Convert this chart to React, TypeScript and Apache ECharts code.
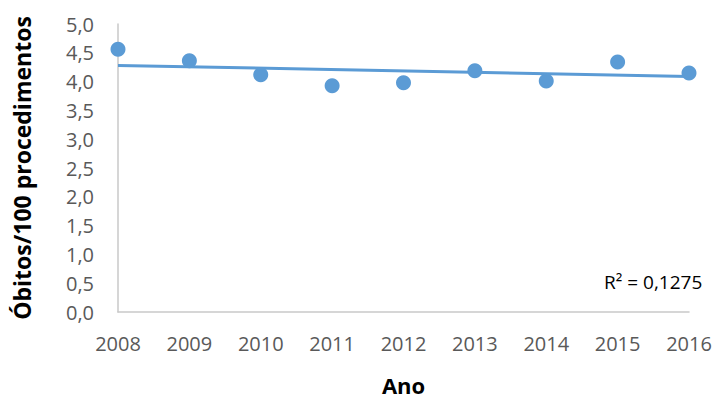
import React, { useEffect, useRef } from "react";
import * as echarts from "echarts";

const years = ["2008", "2009", "2010", "2011", "2012", "2013", "2014", "2015", "2016"];
const deathsPer100 = [4.56, 4.36, 4.12, 3.93, 3.98, 4.19, 4.01, 4.34, 4.15];
// linear trendline as drawn (first and last year)
const trendEnds = [4.28, 4.09];
const rSquaredLabel = "R² = 0,1275";

const FONT = "'Open Sans', sans-serif";
const BLUE = "#5B9BD5";

const App = () => {
  const chartRef = useRef<HTMLDivElement>(null);

  useEffect(() => {
    const dom = chartRef.current;
    if (!dom) return;
    const chart = echarts.init(dom, undefined, { renderer: "svg" });

    const option: echarts.EChartsOption = {
      animation: false,
      textStyle: { fontFamily: FONT },
      grid: { left: 118, right: 28, top: 24, bottom: 79 },
      xAxis: {
        type: "category",
        data: years,
        boundaryGap: false,
        name: "Ano",
        nameLocation: "middle",
        nameGap: 62,
        nameTextStyle: { fontFamily: FONT, fontSize: 22, fontWeight: "bold", color: "#000" },
        axisLine: { lineStyle: { color: "#C9C9C9", width: 1.5 } },
        axisTick: { show: false },
        axisLabel: { color: "#595959", fontSize: 20, margin: 21, fontFamily: FONT },
        splitLine: { show: false },
      },
      yAxis: {
        type: "value",
        min: 0,
        max: 5,
        interval: 0.5,
        name: "Óbitos/100 procedimentos",
        nameLocation: "middle",
        nameGap: 85,
        nameTextStyle: { fontFamily: FONT, fontSize: 23, fontWeight: "bold", color: "#000" },
        axisLine: { show: true, lineStyle: { color: "#C9C9C9", width: 1.5 } },
        axisTick: { show: false },
        axisLabel: {
          color: "#595959",
          fontSize: 20,
          margin: 24,
          fontFamily: FONT,
          formatter: (v: number) => v.toFixed(1).replace(".", ","),
        },
        splitLine: { show: false },
      },
      series: [
        {
          type: "line",
          data: [
            [years[0], trendEnds[0]],
            [years[years.length - 1], trendEnds[1]],
          ],
          showSymbol: false,
          lineStyle: { color: BLUE, width: 3 },
          z: 1,
        },
        {
          type: "scatter",
          data: deathsPer100,
          symbolSize: 15,
          itemStyle: { color: BLUE, opacity: 1 },
          z: 2,
        },
      ],
      graphic: [
        {
          type: "text",
          left: 604,
          top: 272,
          style: { text: rSquaredLabel, fontFamily: FONT, fontSize: 19, fill: "#000" },
        },
      ],
    };

    chart.setOption(option);
    return () => chart.dispose();
  }, []);

  return (
    <div
      ref={chartRef}
      style={{ position: "absolute", left: 0, top: 0, width: 717, height: 401 }}
    />
  );
};

export default App;
